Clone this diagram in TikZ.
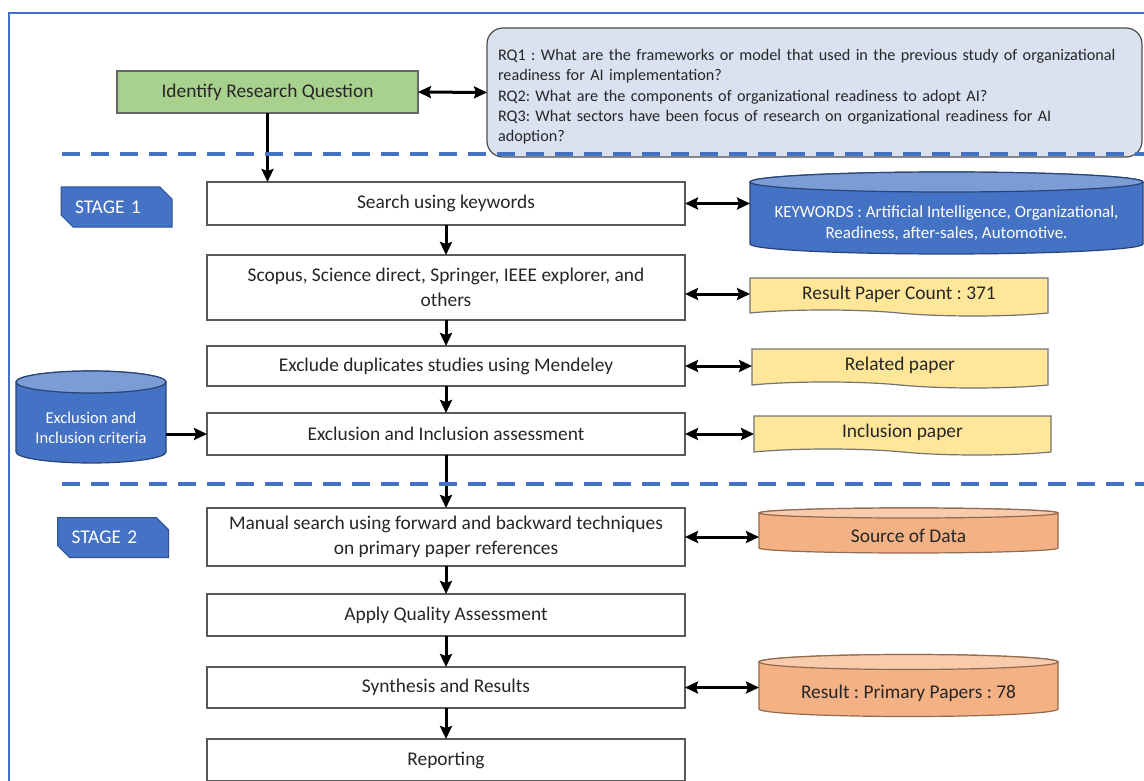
\documentclass[tikz,border=0pt]{standalone}
\usepackage{fontspec}
\setmainfont{Carlito}
\usetikzlibrary{arrows.meta,positioning,shapes.misc,shapes.symbols,backgrounds,calc}

\definecolor{frameblue}{RGB}{68,114,196}
\definecolor{stageedge}{RGB}{47,82,143}
\definecolor{rqfill}{RGB}{218,226,241}
\definecolor{greenfill}{RGB}{169,209,142}
\definecolor{notefill}{RGB}{255,230,153}
\definecolor{drumorange}{RGB}{244,177,131}
\definecolor{drumorangetop}{RGB}{248,203,173}
\definecolor{drumbluetop}{RGB}{124,156,214}

\newcommand{\stepfont}{\fontsize{19.4}{24.5}\selectfont}
\newcommand{\rqfont}{\fontsize{16.2}{20.2}\selectfont}
\newcommand{\kwfont}{\fontsize{17}{21}\selectfont}
\newcommand{\critfont}{\fontsize{16.5}{20}\selectfont}

% database drum drawn behind a named node (node = front face)
\newcommand{\drum}[4]{%
  \path let \p1=(#1.north west), \p2=(#1.south east), \p3=(#1.north),
            \n1={(\x2-\x1)/2} in
    [draw=#3!60!black, line width=1.2pt, fill=#3]
    (\x1,\y1+#2) -- (\x1,\y2+#2)
    arc[start angle=180, end angle=360, x radius=\n1, y radius=#2]
    -- (\x2,\y1+#2)
    arc[start angle=0, end angle=180, x radius=\n1, y radius=#2] -- cycle;
  \path let \p1=(#1.north), \p2=(#1.north west), \p3=(#1.north east),
            \n1={(\x3-\x2)/2} in
    [draw=#3!60!black, line width=1.2pt, fill=#4]
    (\x1,\y1+#2) ellipse[x radius=\n1, y radius=#2];
}

\begin{document}
\frenchspacing
\begin{tikzpicture}[x=1pt, y=-1pt,
  stepbox/.style={draw=black!65, line width=1.2pt, fill=white, minimum width=478pt,
    font=\stepfont, text=black!85, align=center, inner sep=2pt, outer sep=0pt},
  greenbox/.style={stepbox, fill=greenfill, draw=black!60, minimum width=301pt, minimum height=42pt},
  qbox/.style={draw=black!70, line width=1.2pt, fill=rqfill, rounded corners=16pt,
    minimum width=655pt, minimum height=129pt, text width=633pt, inner xsep=11pt,
    align=left, font=\rqfont, text=black!85, outer sep=0pt},
  note/.style={tape, tape bend top=none, tape bend bottom=out and in, tape bend height=6pt,
    draw=black!55, line width=1.2pt, fill=notefill, font=\stepfont, text=black!85,
    inner sep=0pt, outer sep=0pt},
  drumnode/.style={inner sep=0pt, outer sep=0pt, align=center},
  stagetag/.style={chamfered rectangle, chamfered rectangle corners={north east,south west},
    chamfered rectangle xsep=6pt, chamfered rectangle ysep=6pt,
    draw=stageedge, line width=1pt, fill=frameblue, text=white, font=\stepfont,
    minimum width=111pt, minimum height=40pt, inner ysep=0pt, inner xsep=7.5pt,
    text width=83pt, align=left},
  link/.style={-{Stealth[length=13pt,width=12pt,inset=2pt]}, line width=3pt},
  both/.style={{Stealth[length=13pt,width=12pt,inset=2pt]}-{Stealth[length=13pt,width=12pt,inset=2pt]}, line width=3pt},
  separator/.style={frameblue, line width=4.5pt, dash pattern=on 18pt off 11pt},
  frame/.style={frameblue, line width=2.5pt}]

  \useasboundingbox (0,0) rectangle (1144,781);
  \draw[frame] (1144,13) -- (9,13) -- (9,781);

  % research questions
  \node[greenbox] (identify) at (267.5,92) {Identify Research Question};
  \node[qbox] (questions) at (814.5,92.5) {\rule{0pt}{20pt}RQ1 : What are the frameworks or model that used in the previous study of organizational\\readiness for AI implementation?\\RQ2: What are the components of organizational readiness to adopt AI?\\RQ3: What sectors have been focus of research on organizational readiness for AI\\adoption?};

  % stage 1
  \node[stagetag] (stage1) at (116.5,207) {STAGE 1};
  \node[stepbox, minimum height=43pt] (search) at (446,203.5) {Search using keywords};
  \node[stepbox, below=30pt of search, minimum height=65pt] (sources) {Scopus, Science direct, Springer, IEEE explorer, and\\others};
  \node[stepbox, below=26pt of sources, minimum height=40pt] (dedup) {Exclude duplicates studies using Mendeley};
  \node[stepbox, below=27pt of dedup, minimum height=42pt] (assess) {Exclusion and Inclusion assessment};

  \node[drumnode, minimum width=393pt, minimum height=62pt, text=white, font=\kwfont] (keywords) at (946.5,223) {KEYWORDS : Artificial Intelligence, Organizational,\\Readiness, after-sales, Automotive.};
  \node[note, minimum width=298pt, minimum height=38pt] (count) at (899,294) {Result Paper Count : 371};
  \node[note, minimum width=296pt, minimum height=39pt] (related) at (900,365.5) {Related paper};
  \node[note, minimum width=297pt, minimum height=39pt] (included) at (902.5,432.5) {Inclusion paper};
  \node[drumnode, minimum width=150pt, minimum height=70pt, text=white, font=\critfont] (criteria) at (91,428) {Exclusion and\\Inclusion criteria};

  % stage 2
  \node[stagetag] (stage2) at (113,537.5) {STAGE 2};
  \node[stepbox, below=53pt of assess, minimum height=58pt] (manual) {Manual search using forward and backward techniques\\on primary paper references};
  \node[stepbox, below=28pt of manual, minimum height=42pt] (quality) {Apply Quality Assessment};
  \node[stepbox, below=31pt of quality, minimum height=41pt] (synth) {Synthesis and Results};
  \node[stepbox, below=31pt of synth, minimum height=42pt] (report) {Reporting};

  \node[drumnode, minimum width=299pt, minimum height=35pt, text=black!85, font=\stepfont] (source) at (908.5,535.5) {Source of Data};
  \node[drumnode, minimum width=299pt, minimum height=47pt, text=black!85, font=\stepfont] (primary) at (908.5,693) {Result : Primary Papers : 78};

  \begin{scope}[on background layer]
    \drum{keywords}{10pt}{frameblue}{drumbluetop}
    \drum{criteria}{11pt}{frameblue}{drumbluetop}
    \drum{source}{5pt}{drumorange}{drumorangetop}
    \drum{primary}{7.5pt}{drumorange}{drumorangetop}
  \end{scope}

  % connectors
  \draw[both] (identify.east) -- (questions.west);
  \draw[link] (identify.south) -- (identify.south |- search.north);
  \draw[both] (search.east) -- (search.east -| keywords.west);
  \draw[link] (search) -- (sources);
  \draw[both] (count.west -| sources.east) -- (count.west);
  \draw[link] (sources) -- (dedup);
  \draw[both] (dedup.east) -- (dedup.east -| related.west);
  \draw[link] (dedup) -- (assess);
  \draw[both] (assess.east) -- (assess.east -| included.west);
  \draw[link] (criteria.east |- assess.west) -- (assess.west);
  \draw[link] (assess) -- (manual);
  \draw[both] (manual.east) -- (manual.east -| source.west);
  \draw[link] (manual) -- (quality);
  \draw[link] (quality) -- (synth);
  \draw[both] (synth.east) -- (synth.east -| primary.west);
  \draw[link] (synth) -- (report);

  % stage separators
  \coordinate (cut1a) at (62,154);
  \coordinate (cut1b) at (1144,154);
  \coordinate (cut2a) at (62,484);
  \coordinate (cut2b) at (1144,484);
  \draw[separator] (cut1a) -- (cut1b);
  \draw[separator] (cut2a) -- (cut2b);
\end{tikzpicture}
\end{document}
